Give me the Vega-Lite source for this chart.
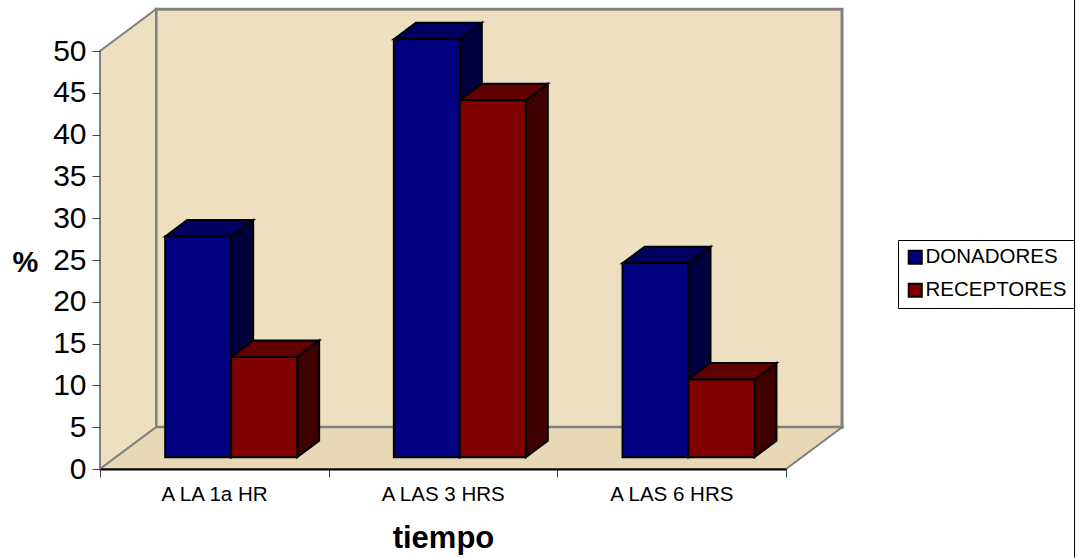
{
"$schema":"https://vega.github.io/schema/vega-lite/v6.json",
"width":686,"height":418,
"autosize":"none",
"padding":{"left":100,"top":51,"right":290,"bottom":89},
"background":"white",
"config":{"view":{"stroke":null},"font":"Liberation Sans"},
"datasets":{"barras":[
{"tiempo":"A LA 1a HR","orden":0,"serie":"DONADORES","pos":0,"valor":26.4},
{"tiempo":"A LA 1a HR","orden":0,"serie":"RECEPTORES","pos":1,"valor":12.0},
{"tiempo":"A LAS 3 HRS","orden":1,"serie":"DONADORES","pos":0,"valor":50},
{"tiempo":"A LAS 3 HRS","orden":1,"serie":"RECEPTORES","pos":1,"valor":42.7},
{"tiempo":"A LAS 6 HRS","orden":2,"serie":"DONADORES","pos":0,"valor":23.2},
{"tiempo":"A LAS 6 HRS","orden":2,"serie":"RECEPTORES","pos":1,"valor":9.3}
]},
"layer":[
{"data":{"values":[{"a":1}]},
 "mark":{"type":"rect","fill":"#eddfc0","stroke":"#808080","strokeWidth":3,"clip":false},
 "encoding":{
  "x":{"datum":0.245,"type":"quantitative","scale":{"domain":[0,3],"nice":false,"zero":false},
   "axis":{"values":[0,1,2,3],"title":"tiempo","titleFont":"Liberation Sans","titleFontSize":31,"titleFontWeight":"bold","titleColor":"#000","titleX":343,"titleY":69,"titleBaseline":"middle","labelExpr":"datum.value==0?'A LA 1a HR':datum.value==1?'A LAS 3 HRS':datum.value==2?'A LAS 6 HRS':''","labelOffset":114,"labelFontSize":20.5,"labelFont":"Liberation Sans","labelColor":"#000","labelPadding":7,"labelBound":false,"labelFlush":false,"labelOverlap":false,"tickSize":8,"tickColor":"#444","domainColor":"#000","domainWidth":2,"tickWidth":1,"grid":false,"zindex":1}},
  "x2":{"datum":3.245},
  "y":{"datum":5,"type":"quantitative","scale":{"domain":[0,50],"nice":false,"zero":false},
   "axis":{"values":[0,5,10,15,20,25,30,35,40,45,50],"title":"%","titleAngle":0,"titleFont":"Liberation Sans","titleFontSize":29,"titleFontWeight":"bold","titleColor":"#000","titleX":-75,"titleY":211,"titleAlign":"center","titleBaseline":"middle","labelFontSize":30,"labelFont":"Liberation Sans","labelColor":"#000","labelPadding":6,"tickSize":8,"tickColor":"#444","tickWidth":1,"domain":false,"grid":false,"zindex":1}},
  "y2":{"datum":55}}},
{"data":{"values":[{"x":0,"lo":0,"hi":50},{"x":0.245,"lo":5,"hi":55}]},
 "mark":{"type":"area","fill":"#eddfc0","stroke":"#808080","strokeWidth":2,"clip":false},
 "encoding":{"x":{"field":"x","type":"quantitative","scale":{"domain":[0,3],"nice":false,"zero":false}},
  "y":{"field":"lo","type":"quantitative","scale":{"domain":[0,50],"nice":false,"zero":false}},"y2":{"field":"hi"}}},
{"data":{"values":[{"y":0,"xa":0,"xb":3},{"y":5,"xa":0.245,"xb":3.245}]},
 "mark":{"type":"area","orient":"horizontal","fill":"#e8d8b6","stroke":"#808080","strokeWidth":2,"clip":false},
 "encoding":{"y":{"field":"y","type":"quantitative","scale":{"domain":[0,50],"nice":false,"zero":false}},
  "x":{"field":"xa","type":"quantitative","scale":{"domain":[0,3],"nice":false,"zero":false}},"x2":{"field":"xb"}}},
{"data":{"name":"barras"},
 "transform":[
  {"calculate":"datum.orden+0.285+datum.pos*0.2886+0.2886","as":"x1"},
  {"calculate":"[datum.x1,datum.x1+0.0962]","as":"xa"},
  {"calculate":"[1.41,3.38]","as":"lo"},
  {"calculate":"[1.41+datum.valor,3.38+datum.valor]","as":"hi"},
  {"flatten":["xa","lo","hi"]}],
 "mark":{"type":"area","stroke":"#000","strokeWidth":2,"clip":false},
 "encoding":{"x":{"field":"xa","type":"quantitative","scale":{"domain":[0,3],"nice":false,"zero":false}},
  "y":{"field":"lo","type":"quantitative","scale":{"domain":[0,50],"nice":false,"zero":false}},"y2":{"field":"hi"},
  "detail":[{"field":"tiempo"},{"field":"serie"}],
  "fill":{"condition":{"test":"datum.serie==='DONADORES'","value":"#000040"},"value":"#400000"}}},
{"data":{"name":"barras"},
 "transform":[
  {"calculate":"datum.orden+0.285+datum.pos*0.2886","as":"x0"},
  {"calculate":"[datum.x0,datum.x0+0.0962]","as":"xl"},
  {"calculate":"[datum.x0+0.2886,datum.x0+0.2886+0.0962]","as":"xr"},
  {"calculate":"[1.41+datum.valor,3.38+datum.valor]","as":"ya"},
  {"flatten":["xl","xr","ya"]}],
 "mark":{"type":"area","orient":"horizontal","stroke":"#000","strokeWidth":2,"clip":false},
 "encoding":{"y":{"field":"ya","type":"quantitative","scale":{"domain":[0,50],"nice":false,"zero":false}},
  "x":{"field":"xl","type":"quantitative","scale":{"domain":[0,3],"nice":false,"zero":false}},"x2":{"field":"xr"},
  "detail":[{"field":"tiempo"},{"field":"serie"}],
  "fill":{"condition":{"test":"datum.serie==='DONADORES'","value":"#000060"},"value":"#600000"}}},
{"data":{"name":"barras"},
 "transform":[
  {"calculate":"datum.orden+0.285+datum.pos*0.2886","as":"x0"},
  {"calculate":"datum.x0+0.2886","as":"x1"},
  {"calculate":"1.41+datum.valor","as":"tope"},
  {"calculate":"1.41","as":"base"}],
 "mark":{"type":"rect","stroke":"#000","strokeWidth":2,"clip":false},
 "encoding":{"x":{"field":"x0","type":"quantitative","scale":{"domain":[0,3],"nice":false,"zero":false}},"x2":{"field":"x1"},
  "y":{"field":"base","type":"quantitative","scale":{"domain":[0,50],"nice":false,"zero":false}},"y2":{"field":"tope"},
  "color":{"field":"serie","type":"nominal","scale":{"domain":["DONADORES","RECEPTORES"],"range":["#000080","#800000"]},
   "legend":{"title":null,"orient":"none","legendX":798,"legendY":189,"fillColor":"white","strokeColor":"#000","padding":7,"symbolType":"square","symbolSize":170,"symbolStrokeColor":"#000","symbolStrokeWidth":2,"symbolOpacity":1,"labelFontSize":20.5,"labelFont":"Liberation Sans","labelColor":"#000","labelLimit":200,"rowPadding":11,"labelOffset":0}}}},
{"data":{"values":[{"a":1}]},
 "mark":{"type":"rule","color":"#000","strokeWidth":1,"clip":false},
 "encoding":{"x":{"datum":4.262,"type":"quantitative","scale":{"domain":[0,3],"nice":false,"zero":false}},
  "y":{"datum":-10.6,"type":"quantitative","scale":{"domain":[0,50],"nice":false,"zero":false}},"y2":{"datum":56.2}}}
]}
